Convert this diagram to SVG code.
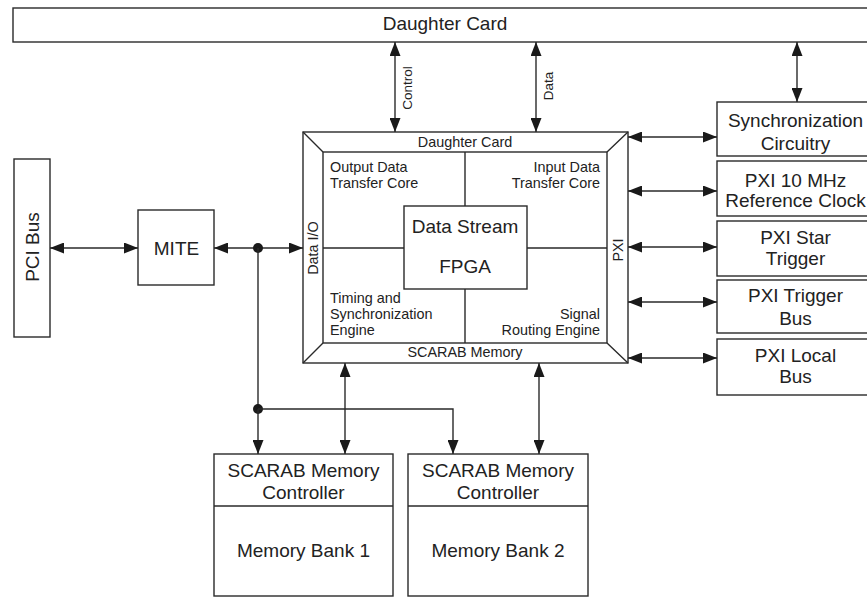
<svg xmlns="http://www.w3.org/2000/svg" width="867" height="597" viewBox="0 0 867 597">
<defs>
<marker id="ah" viewBox="0 0 14 11" refX="14" refY="5.5" markerWidth="14" markerHeight="11" markerUnits="userSpaceOnUse" orient="auto-start-reverse">
<path d="M0,0 L14,5.5 L0,11 Z" fill="#1a1a1a"/>
</marker>
</defs>
<style>
.box{fill:#fff;stroke:#2a2a2a;stroke-width:1.4}
.ln{fill:none;stroke:#2a2a2a;stroke-width:1.4}
.arr{fill:none;stroke:#2a2a2a;stroke-width:1.4;marker-start:url(#ah);marker-end:url(#ah)}
.arr1{fill:none;stroke:#2a2a2a;stroke-width:1.4;marker-end:url(#ah)}
text{font-family:"Liberation Sans",Arial,sans-serif;fill:#222}
.big{font-size:19px;text-anchor:middle}
.mid{font-size:14.4px}
.lab{font-size:13.5px;text-anchor:middle}
.c{text-anchor:middle}
.r{text-anchor:end}
</style>
<rect width="867" height="597" fill="#fff"/>

<g id="daughter-card">
<rect class="box" x="13" y="8" width="870" height="34"/>
<text class="big" x="445" y="30">Daughter Card</text>
</g>

<g id="pci-bus">
<rect class="box" x="14" y="159" width="36" height="178"/>
<text class="big" transform="translate(39,247) rotate(-90)">PCI Bus</text>
</g>

<g id="mite">
<rect class="box" x="138" y="210" width="76" height="75"/>
<text class="big" x="176.5" y="255">MITE</text>
</g>

<g id="fpga">
<rect class="box" x="303" y="132" width="325" height="231"/>
<rect class="box" x="323" y="152" width="284" height="191"/>
<path class="ln" d="M303,132 L323,152 M628,132 L607,152 M303,363 L323,343 M628,363 L607,343"/>
<path class="ln" d="M465,152 V206 M465,289 V343 M323,248 H404 M527,248 H607"/>
<rect class="box" x="404" y="206" width="123" height="83"/>
<text class="mid c" x="465" y="147">Daughter Card</text>
<text class="mid c" x="465" y="357">SCARAB Memory</text>
<text class="mid c" transform="translate(318,248) rotate(-90)">Data I/O</text>
<text class="mid c" transform="translate(623,250) rotate(-90)">PXI</text>
<text class="mid" x="330" y="172">Output Data</text>
<text class="mid" x="330" y="188">Transfer Core</text>
<text class="mid r" x="600" y="172">Input Data</text>
<text class="mid r" x="600" y="188">Transfer Core</text>
<text class="mid" x="330" y="303">Timing and</text>
<text class="mid" x="330" y="319">Synchronization</text>
<text class="mid" x="330" y="335">Engine</text>
<text class="mid r" x="600" y="319">Signal</text>
<text class="mid r" x="600" y="335">Routing Engine</text>
<text class="big" x="465" y="233">Data Stream</text>
<text class="big" x="465" y="273">FPGA</text>
</g>

<g id="sync-circuitry">
<rect class="box" x="717" y="102" width="160" height="54"/>
<text class="big" x="795.5" y="127">Synchronization</text>
<text class="big" x="795.5" y="150">Circuitry</text>
</g>
<g id="pxi-10mhz">
<rect class="box" x="717" y="161" width="160" height="55"/>
<text class="big" x="795.5" y="187">PXI 10 MHz</text>
<text class="big" x="795.5" y="207">Reference Clock</text>
</g>
<g id="pxi-star">
<rect class="box" x="717" y="221" width="160" height="55"/>
<text class="big" x="795.5" y="244">PXI Star</text>
<text class="big" x="795.5" y="265">Trigger</text>
</g>
<g id="pxi-trigger-bus">
<rect class="box" x="717" y="280" width="160" height="53"/>
<text class="big" x="795.5" y="302">PXI Trigger</text>
<text class="big" x="795.5" y="325">Bus</text>
</g>
<g id="pxi-local-bus">
<rect class="box" x="717" y="339" width="160" height="56"/>
<text class="big" x="795.5" y="362">PXI Local</text>
<text class="big" x="795.5" y="383">Bus</text>
</g>

<g id="mem-ctrl-1">
<rect class="box" x="214" y="454" width="179" height="142"/>
<path class="ln" d="M214,506 H393"/>
<text class="big" x="303.5" y="477">SCARAB Memory</text>
<text class="big" x="303.5" y="499">Controller</text>
<text class="big" x="303.5" y="557">Memory Bank 1</text>
</g>
<g id="mem-ctrl-2">
<rect class="box" x="408" y="454" width="180" height="142"/>
<path class="ln" d="M408,506 H588"/>
<text class="big" x="498" y="477">SCARAB Memory</text>
<text class="big" x="498" y="499">Controller</text>
<text class="big" x="498" y="557">Memory Bank 2</text>
</g>

<g id="connectors">
<path class="arr" d="M395,42 V132"/>
<path class="arr" d="M536,42 V132"/>
<path class="arr" d="M797,42 V102"/>
<text class="lab" transform="translate(412,88) rotate(-90)">Control</text>
<text class="lab" transform="translate(553,86) rotate(-90)">Data</text>
<path class="arr" d="M628,137 H717"/>
<path class="arr" d="M628,191 H717"/>
<path class="arr" d="M628,247 H717"/>
<path class="arr" d="M628,302 H717"/>
<path class="arr" d="M628,358 H717"/>
<path class="arr" d="M50,248 H138"/>
<path class="arr" d="M214,248 H303"/>
<circle cx="258" cy="248" r="5" fill="#1a1a1a"/>
<path class="ln" d="M258,248 V409"/>
<circle cx="258" cy="409" r="5" fill="#1a1a1a"/>
<path class="arr1" d="M258,409 V454"/>
<path class="arr1" d="M258,409 H453 V454"/>
<path class="arr" d="M345,363 V454"/>
<path class="arr" d="M539,363 V454"/>
</g>
</svg>
